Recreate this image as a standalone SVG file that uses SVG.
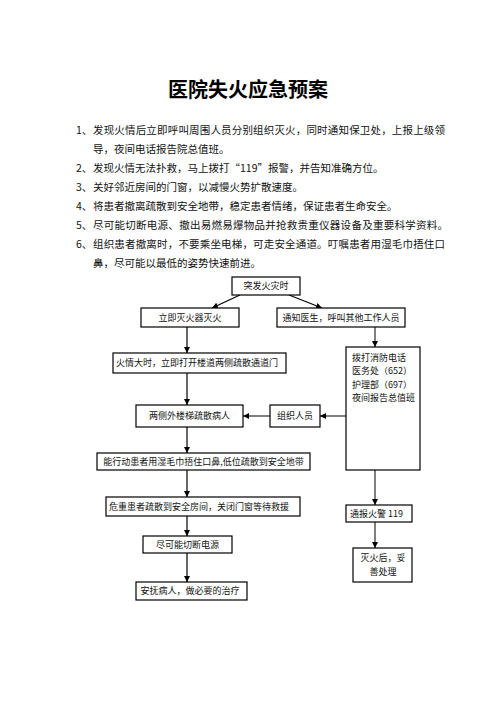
<svg xmlns="http://www.w3.org/2000/svg" width="496" height="702" viewBox="0 0 496 702">
<style>
.title{font-family:"Noto Sans CJK SC",sans-serif;font-size:20px;font-weight:bold;text-anchor:middle;fill:#000}
.t{font-family:"Noto Sans CJK SC",sans-serif;font-size:10.5px;fill:#111}
.f{font-family:"Noto Sans CJK SC",sans-serif;font-size:9px;fill:#111;text-anchor:middle}
.fs{font-family:"Noto Sans CJK SC",sans-serif;font-size:9px;fill:#111}
.b{fill:#fff;stroke:#000;stroke-width:1.2}
.k{stroke:#000;stroke-width:1.2;fill:none}
.g{stroke:#808080;stroke-width:2;fill:none}
</style>
<defs>
<marker id="ah" viewBox="0 0 10 10" refX="10" refY="5" markerWidth="6" markerHeight="6" markerUnits="userSpaceOnUse" orient="auto">
<path d="M0,0 L10,5 L0,10 z" fill="#000"/>
</marker>
</defs>
<rect width="496" height="702" fill="#fff"/>
<text class="title" x="248" y="97">医院失火应急预案</text>
<g id="list">
<text class="t" x="76" y="134">1、</text>
<text class="t" x="93" y="134" textLength="352" lengthAdjust="spacing">发现火情后立即呼叫周围人员分别组织灭火，同时通知保卫处，上报上级领</text>
<text class="t" x="93" y="153">导，夜间电话报告院总值班。</text>
<text class="t" x="76" y="172">2、</text>
<text class="t" x="93" y="172">发现火情无法扑救，马上拨打“119”报警，并告知准确方位。</text>
<text class="t" x="76" y="191">3、</text>
<text class="t" x="93" y="191">关好邻近房间的门窗，以减慢火势扩散速度。</text>
<text class="t" x="76" y="210">4、</text>
<text class="t" x="93" y="210">将患者撤离疏散到安全地带，稳定患者情绪，保证患者生命安全。</text>
<text class="t" x="76" y="229">5、</text>
<text class="t" x="93" y="229" textLength="355" lengthAdjust="spacing">尽可能切断电源、撤出易燃易爆物品并抢救贵重仪器设备及重要科学资料。</text>
<text class="t" x="76" y="248">6、</text>
<text class="t" x="93" y="248" textLength="352" lengthAdjust="spacing">组织患者撤离时，不要乘坐电梯，可走安全通道。叮嘱患者用湿毛巾捂住口</text>
<text class="t" x="93" y="267">鼻，尽可能以最低的姿势快速前进。</text>
</g>
<g id="connectors">
<line class="k" x1="240" y1="295" x2="212" y2="308" marker-end="url(#ah)"/>
<line class="k" x1="289" y1="295" x2="322" y2="308" marker-end="url(#ah)"/>
<line class="k" x1="187" y1="327" x2="187" y2="353" marker-end="url(#ah)"/>
<line class="g" x1="375" y1="327" x2="375" y2="347" marker-end="url(#ah)"/>
<line class="k" x1="187" y1="373" x2="187" y2="405" marker-end="url(#ah)"/>
<line class="g" x1="346" y1="416" x2="320" y2="416" marker-end="url(#ah)"/>
<line class="g" x1="270" y1="416" x2="243" y2="416" marker-end="url(#ah)"/>
<line class="k" x1="187" y1="427" x2="187" y2="453" marker-end="url(#ah)"/>
<line class="k" x1="187" y1="470" x2="187" y2="497" marker-end="url(#ah)"/>
<line class="k" x1="187" y1="516" x2="187" y2="536" marker-end="url(#ah)"/>
<line class="k" x1="187" y1="553" x2="187" y2="582" marker-end="url(#ah)"/>
<line class="g" x1="375" y1="470" x2="375" y2="505" marker-end="url(#ah)"/>
<line class="g" x1="375" y1="522" x2="375" y2="548" marker-end="url(#ah)"/>
</g>
<g id="n-start"><rect class="b" x="232" y="277" width="68" height="18"/><text class="f" x="266" y="289.3">突发火灾时</text></g>
<g id="n-extinguish"><rect class="b" x="141" y="308" width="98" height="19"/><text class="f" x="190" y="320.8">立即灭火器灭火</text></g>
<g id="n-notify"><rect class="b" x="277" y="308" width="128" height="19"/><text class="f" x="341" y="320.8">通知医生，呼叫其他工作人员</text></g>
<g id="n-open"><rect class="b" x="113" y="353" width="173" height="20"/><text class="f" x="197" y="366.3">火情大时，立即打开楼道两侧疏散通道门</text></g>
<g id="n-call"><rect class="b" x="346" y="347" width="74" height="123"/>
<text class="fs" x="352" y="360.5">拨打消防电话</text>
<text class="fs" x="352" y="374">医务处（652）</text>
<text class="fs" x="352" y="387.5">护理部（697）</text>
<text class="fs" x="352" y="401">夜间报告总值班</text></g>
<g id="n-stairs"><rect class="b" x="136" y="405" width="107" height="22"/><text class="f" x="189.5" y="419.3">两侧外楼梯疏散病人</text></g>
<g id="n-organize"><rect class="b" x="270" y="405" width="50" height="22"/><text class="f" x="295" y="419.3">组织人员</text></g>
<g id="n-mobile"><rect class="b" x="97" y="453" width="213" height="17"/><text class="f" x="203.5" y="464.8">能行动患者用湿毛巾捂住口鼻,低位疏散到安全地带</text></g>
<g id="n-critical"><rect class="b" x="106" y="497" width="194" height="19"/><text class="f" x="199" y="509.8">危重患者疏散到安全房间，关闭门窗等待救援</text></g>
<g id="n-power"><rect class="b" x="143" y="536" width="89" height="17"/><text class="f" x="187.5" y="547.8">尽可能切断电源</text></g>
<g id="n-comfort"><rect class="b" x="136" y="582" width="111" height="18"/><text class="f" x="190" y="594.3">安抚病人，做必要的治疗</text></g>
<g id="n-alarm"><rect class="b" x="346" y="505" width="66" height="17"/><text class="fs" x="350" y="516.8">通报火警 119</text></g>
<g id="n-after"><rect class="b" x="353" y="548" width="59" height="34"/><text class="f" x="383" y="561.3">灭火后，妥</text><text class="f" x="383" y="575.3">善处理</text></g>
</svg>
